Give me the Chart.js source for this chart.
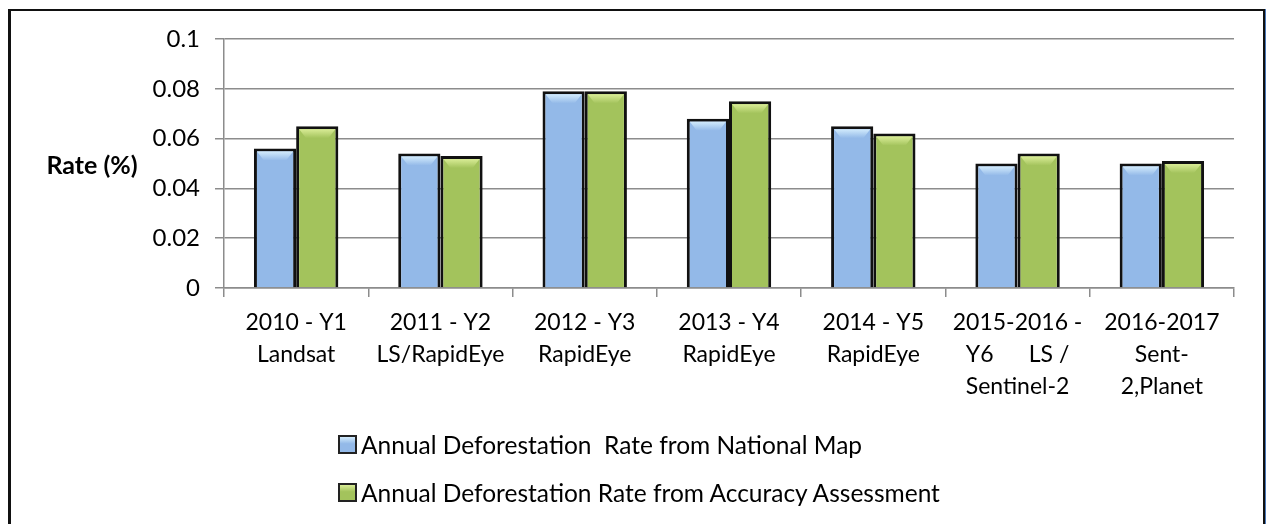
<!DOCTYPE html>
<html>
<head>
<meta charset="utf-8">
<script src="https://cdn.jsdelivr.net/npm/chart.js@4.4.1/dist/chart.umd.min.js"></script>
<style>
  html, body { margin: 0; padding: 0; background: #fff; }
  #wrap { position: relative; width: 1266px; height: 524px; overflow: hidden; }
  #frame {
    position: absolute; left: 8px; top: 9px; width: 1252px; height: 530px;
    border-left: 3px solid #111; border-top: 2px solid #111; border-right: 2px solid #111;
    box-shadow: 2px 0 0 #4a78b8;
  }
  #chart { position: absolute; left: 0; top: 0; }
  #legend { position: absolute; left: 338px; top: 420px; font-family: Lato, sans-serif; font-size: 24.5px; color: #000; }
  .item { height: 48px; display: flex; align-items: center; white-space: pre; }
  .swatch { width: 15px; height: 15px; border: 2px solid #222; margin-right: 4px; }
</style>
</head>
<body>
<div id="wrap">
  <div id="frame"></div>
  <canvas id="chart" width="1266" height="524"></canvas>
  <div id="legend"></div>
</div>
<script>
// data
const categories = [
  ['2010 - Y1', 'Landsat'],
  ['2011 - Y2', 'LS/RapidEye'],
  ['2012 - Y3', 'RapidEye'],
  ['2013 - Y4', 'RapidEye'],
  ['2014 - Y5', 'RapidEye'],
  ['2015-2016 -', 'Y6      LS /', 'Sentinel-2'],
  ['2016-2017', 'Sent-', '2,Planet']
];
const nationalMap = [0.056, 0.054, 0.079, 0.068, 0.065, 0.050, 0.050];
const accuracyAssessment = [0.065, 0.053, 0.079, 0.075, 0.062, 0.054, 0.051];
const yTicks = ['0', '0.02', '0.04', '0.06', '0.08', '0.1'];
const seriesNames = [
  'Annual Deforestation  Rate from National Map',
  'Annual Deforestation Rate from Accuracy Assessment'
];
const fills = ['#93b9e8', '#a3c35c'];
const highlights = ['#d2ebfc', '#d9ec96'];

const FONT = 'Lato, sans-serif';

// html legend, stacked like the original
const legend = document.getElementById('legend');
seriesNames.forEach((name, i) => {
  const row = document.createElement('div');
  row.className = 'item';
  const sw = document.createElement('div');
  sw.className = 'swatch';
  sw.style.background = 'linear-gradient(' + highlights[i] + ' 0%, ' + fills[i] + ' 45%)';
  row.appendChild(sw);
  row.appendChild(document.createTextNode(name));
  legend.appendChild(row);
});

// light bevel on the top of each bar
const bevel = {
  id: 'bevel',
  afterDatasetsDraw(chart) {
    const ctx = chart.ctx;
    chart.data.datasets.forEach((ds, di) => {
      chart.getDatasetMeta(di).data.forEach(bar => {
        const half = bar.width / 2;
        const l = bar.x - half + 3, r = bar.x + half - 3;
        const t = bar.y + 3;
        const g = ctx.createLinearGradient(0, t, 0, t + 9);
        g.addColorStop(0, highlights[di]);
        g.addColorStop(1, fills[di]);
        ctx.save();
        ctx.fillStyle = g;
        ctx.beginPath();
        ctx.moveTo(l, t);
        ctx.lineTo(r, t);
        ctx.lineTo(r - 7, t + 9);
        ctx.lineTo(l + 7, t + 9);
        ctx.closePath();
        ctx.fill();
        ctx.restore();
      });
    });
  }
};

const yTitle = {
  id: 'yTitle',
  afterDraw(chart) {
    const ctx = chart.ctx;
    ctx.save();
    ctx.font = 'bold 25px ' + FONT;
    ctx.fillStyle = '#000';
    ctx.textAlign = 'center';
    ctx.textBaseline = 'middle';
    ctx.fillText('Rate (%)', 92, 166);
    ctx.restore();
  }
};

new Chart(document.getElementById('chart'), {
  type: 'bar',
  data: {
    labels: categories,
    datasets: [
      { label: seriesNames[0], data: nationalMap, backgroundColor: fills[0], borderColor: '#111', borderWidth: 3 },
      { label: seriesNames[1], data: accuracyAssessment, backgroundColor: fills[1], borderColor: '#111', borderWidth: 3 }
    ]
  },
  options: {
    responsive: false,
    animation: false,
    devicePixelRatio: 1,
    layout: { padding: { top: 39, right: 32, left: 0, bottom: 0 } },
    datasets: { bar: { categoryPercentage: 0.585, barPercentage: 1 } },
    plugins: {
      legend: { display: false },
      tooltip: { enabled: false }
    },
    scales: {
      x: {
        afterFit: scale => { scale.height = 236; },
        grid: { display: true, drawOnChartArea: false, offset: true, color: '#8c8c8c', lineWidth: 1.5, tickLength: 9 },
        border: { color: '#8c8c8c', width: 1.5 },
        ticks: {
          color: '#000', padding: 10, maxRotation: 0, autoSkip: false,
          font: { family: FONT, size: 23, lineHeight: 1.39 }
        }
      },
      y: {
        min: 0, max: 0.1,
        afterFit: scale => { scale.width = 224; },
        grid: { color: '#8c8c8c', lineWidth: 1.5, tickLength: 9 },
        border: { color: '#8c8c8c', width: 1.5 },
        ticks: {
          stepSize: 0.02, color: '#000', padding: 15,
          font: { family: FONT, size: 24 },
          callback: (v, i) => yTicks[i]
        }
      }
    }
  },
  plugins: [bevel, yTitle]
});
</script>
</body>
</html>
